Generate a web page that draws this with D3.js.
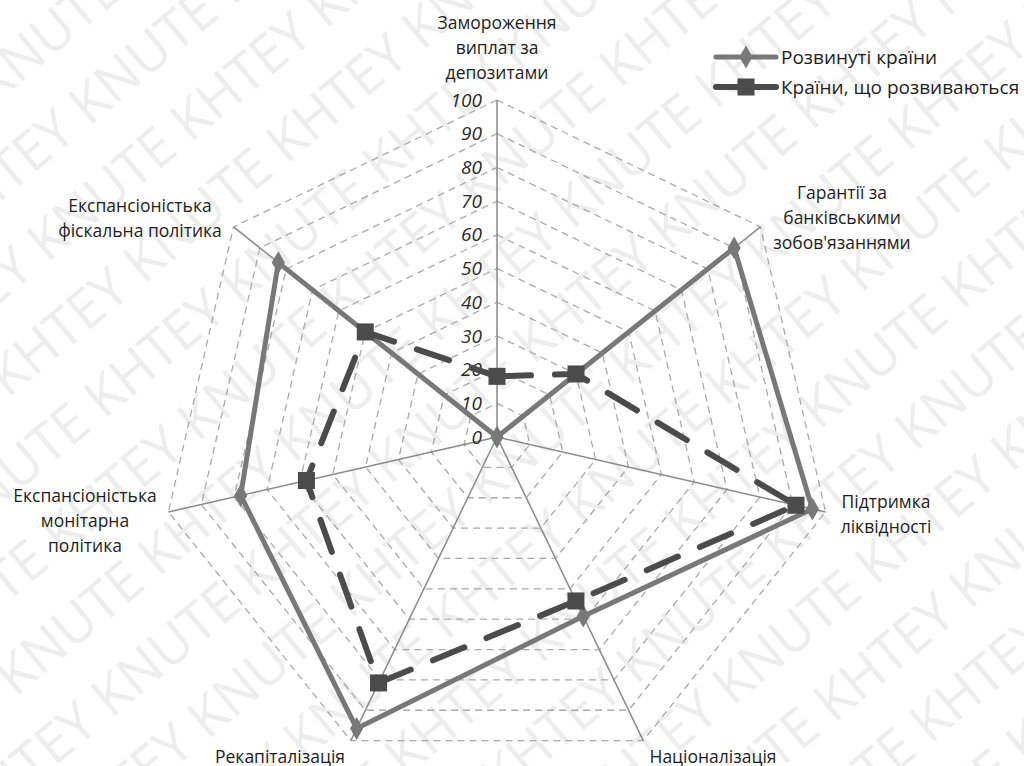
<!DOCTYPE html>
<html>
<head>
<meta charset="utf-8">
<script src="https://cdn.jsdelivr.net/npm/d3@7"></script>
<style>
  html, body { margin: 0; padding: 0; background: #fff; }
  svg { display: block; }
</style>
</head>
<body>
<svg id="chart" width="1024" height="766"></svg>
<script>
// Anti-crisis measures: share of countries using each one (%)
const categories = [
  ["Замороження", "виплат за", "депозитами"],
  ["Гарантії за", "банківськими", "зобов'язаннями"],
  ["Підтримка", "ліквідності"],
  ["Націоналізація"],
  ["Рекапіталізація"],
  ["Експансіоністька", "монітарна", "політика"],
  ["Експансіоністька", "фіскальна політика"]
];
const seriesNames = ["Розвинуті країни", "Країни, що розвиваються"];
const developed = [0, 90, 96, 59, 96, 78, 83];
const developing = [18, 30, 91, 54, 81, 58, 50];
const tickValues = [0, 10, 20, 30, 40, 50, 60, 70, 80, 90, 100];
const watermarkText = "KHTEY KNUTE";

const svg = d3.select("#chart");
const W = 1024, H = 766;
const cx = 497, cy = 437, R = 337;
const n = categories.length;

const r = d3.scaleLinear().domain([0, 100]).range([0, R]);
const angle = d3.scaleLinear().domain([0, n]).range([0, 2 * Math.PI]);
const pt = (i, v) => [cx + r(v) * Math.sin(angle(i)), cy - r(v) * Math.cos(angle(i))];

// faint diagonal watermark
svg.append("defs").append("clipPath").attr("id", "page")
  .append("rect").attr("width", W).attr("height", H);
const wm = svg.append("g").attr("clip-path", "url(#page)")
  .append("g")
  .attr("transform", `translate(${W / 2},${H / 2}) rotate(-40)`)
  .attr("font-family", "'Open Sans', sans-serif")
  .attr("font-size", 54)
  .attr("fill", "#ededed");
d3.range(-8, 9).forEach(k => {
  wm.append("text")
    .attr("x", -700 + (k % 3) * 60)
    .attr("y", k * 78)
    .text(d3.range(5).map(() => watermarkText).join("  "));
});

// dashed heptagonal grid
const grid = svg.append("g");
tickValues.filter(v => v > 0).forEach(v => {
  grid.append("path")
    .attr("d", d3.line()(d3.range(n).map(i => pt(i, v))) + "Z")
    .attr("fill", "none")
    .attr("stroke", "#a9a9a9")
    .attr("stroke-width", 1.3)
    .attr("stroke-dasharray", "7,5");
});

// spokes
svg.append("g").selectAll("line")
  .data(d3.range(n))
  .join("line")
  .attr("x1", cx).attr("y1", cy)
  .attr("x2", i => pt(i, 100)[0])
  .attr("y2", i => pt(i, 100)[1])
  .attr("stroke", "#8a8a8a")
  .attr("stroke-width", 1.5);

// radial tick labels
svg.append("g").selectAll("text")
  .data(tickValues)
  .join("text")
  .attr("x", cx - 15)
  .attr("y", v => cy - r(v))
  .attr("dy", "0.35em")
  .attr("text-anchor", "end")
  .attr("font-family", "'Open Sans', sans-serif")
  .attr("font-style", "italic")
  .attr("font-size", 19)
  .attr("fill", "#2a2a2a")
  .text(d => d);

// category labels
const labelPos = [
  { x: 497, y: 23 },
  { x: 842, y: 193 },
  { x: 886, y: 502 },
  { x: 713, y: 757 },
  { x: 280, y: 757 },
  { x: 85, y: 496 },
  { x: 140, y: 206 }
];
const catG = svg.append("g")
  .attr("font-family", "'Open Sans', sans-serif")
  .attr("font-size", 17.5)
  .attr("fill", "#1e1e1e")
  .attr("text-anchor", "middle");
categories.forEach((lines, i) => {
  const t = catG.append("text")
    .attr("x", labelPos[i].x)
    .attr("y", labelPos[i].y);
  lines.forEach((s, j) => {
    t.append("tspan").attr("x", labelPos[i].x).attr("dy", j === 0 ? "0.35em" : 25).text(s);
  });
});

const closedLine = d3.line().curve(d3.curveLinearClosed);

const styles = [
  { values: developed, color: "#787878", width: 5, dash: null, marker: d3.symbolDiamond, size: 150 },
  { values: developing, color: "#4b4b4b", width: 6, dash: "34,24", marker: d3.symbolSquare, size: 290 }
];

styles.forEach(s => {
  const pts = s.values.map((v, i) => pt(i, v));
  svg.append("path")
    .attr("d", closedLine(pts))
    .attr("fill", "none")
    .attr("stroke", s.color)
    .attr("stroke-width", s.width)
    .attr("stroke-linejoin", "round")
    .attr("stroke-linecap", "round")
    .attr("stroke-dasharray", s.dash);
});
styles.forEach(s => {
  svg.append("g").selectAll("path")
    .data(s.values)
    .join("path")
    .attr("transform", (v, i) => `translate(${pt(i, v)})`)
    .attr("d", d3.symbol().type(s.marker).size(s.size))
    .attr("fill", s.color);
});

// legend
const legend = svg.append("g")
  .attr("font-family", "'Open Sans', sans-serif")
  .attr("font-size", 19)
  .attr("fill", "#1e1e1e");
styles.forEach((s, k) => {
  const y = 57 + k * 30;
  legend.append("line")
    .attr("x1", 716).attr("x2", 776)
    .attr("y1", y).attr("y2", y)
    .attr("stroke", s.color)
    .attr("stroke-width", s.width)
    .attr("stroke-linecap", "round");
  legend.append("path")
    .attr("transform", `translate(746,${y})`)
    .attr("d", d3.symbol().type(s.marker).size(s.size))
    .attr("fill", s.color);
  legend.append("text")
    .attr("x", 781).attr("y", y)
    .attr("dy", "0.35em")
    .text(seriesNames[k]);
});
</script>
</body>
</html>
